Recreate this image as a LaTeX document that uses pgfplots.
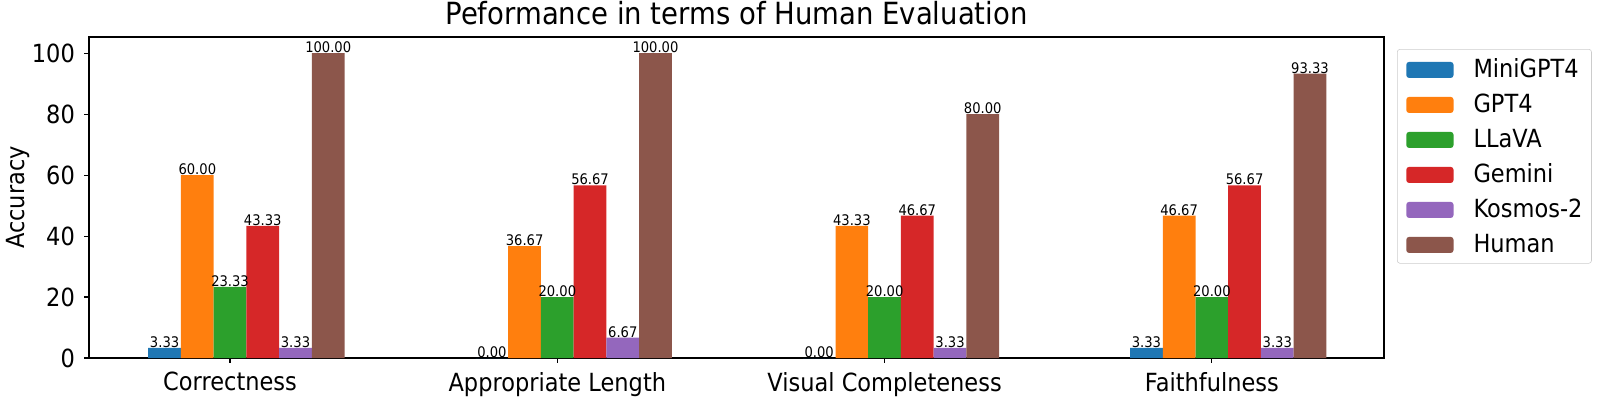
\documentclass[border=0pt]{standalone}
\usepackage{fontspec}
\setmainfont[FakeStretch=0.9]{DejaVu Sans}
\usepackage{pgfplots}
\pgfplotsset{compat=1.18}
\definecolor{c1}{HTML}{1F77B4}
\definecolor{c2}{HTML}{FF7F0E}
\definecolor{c3}{HTML}{2CA02C}
\definecolor{c4}{HTML}{D62728}
\definecolor{c5}{HTML}{9467BD}
\definecolor{c6}{HTML}{8C564B}
\newcommand{\lf}{\fontsize{18}{21}\selectfont}
\begin{document}
\begin{tikzpicture}
\useasboundingbox (-64.08pt,-28.8pt) rectangle (1087.92pt,257.76pt);
\begin{axis}[
  at={(0,0)}, anchor=south west,
  scale only axis,
  width=932.4pt, height=231.1pt,
  xmin=-0.431, xmax=3.526,
  ymin=0, ymax=105.3,
  ybar, bar width=23.56pt,
  clip=false,
  axis line style={line width=0.8pt},
  tick style={line width=0.8pt, black},
  tick align=outside,
  major tick length=3.5pt,
  xtick={0,1,2,3},
  xticklabels={{\lf Correctness},{\lf Appropriate Length},{\lf Visual Completeness},{\lf Faithfulness}},
  ytick={0,20,40,60,80,100},
  yticklabel={\lf\pgfmathprintnumber[assume math mode=true]{\tick}},
  x tick label style={inner sep=0pt, anchor=north, yshift=-6.5pt},
  y tick label style={inner sep=0pt, anchor=east, xshift=-6.5pt},
  xtick pos=bottom, ytick pos=left,
  every axis title shift=0pt,
  title={\fontsize{22}{26}\selectfont Peformance in terms of Human Evaluation},
  title style={at={(axis description cs:0.5,1.0405)}, anchor=base, inner sep=0pt},
  ylabel={\lf Accuracy},
  ylabel style={at={(axis description cs:-0.0552,0.5)}, anchor=center, inner sep=0pt},
  nodes near coords={\fontsize{10.5}{12}\selectfont\pgfmathprintnumber[fixed, fixed zerofill, precision=2, assume math mode=true]{\pgfplotspointmeta}},
  nodes near coords style={inner sep=0pt, anchor=south},
  legend image code/.code={\fill[#1] (0pt,0pt) rectangle (34pt,11.5pt);},
  legend cell align=left,
  legend style={at={(1,1)}, anchor=north west, xshift=9.36pt, yshift=-8.64pt,
    draw=black!20, rounded corners=2pt,
    cells={anchor=base west},
    nodes={inner sep=0pt, text height=13.1pt, text depth=0pt},
    column sep=14.4pt, row sep=12.1pt,
    inner xsep=6.5pt, inner ysep=7.5pt},
]
\addplot[fill=c1, draw=none, bar shift=-47.12pt] coordinates {(0,3.33) (1,0) (2,0) (3,3.33)};
\addlegendentry{\lf MiniGPT4}
\addplot[fill=c2, draw=none, bar shift=-23.56pt] coordinates {(0,60) (1,36.67) (2,43.33) (3,46.67)};
\addlegendentry{\lf GPT4}
\addplot[fill=c3, draw=none, bar shift=0pt] coordinates {(0,23.33) (1,20) (2,20) (3,20)};
\addlegendentry{\lf LLaVA}
\addplot[fill=c4, draw=none, bar shift=23.56pt] coordinates {(0,43.33) (1,56.67) (2,46.67) (3,56.67)};
\addlegendentry{\lf Gemini}
\addplot[fill=c5, draw=none, bar shift=47.12pt] coordinates {(0,3.33) (1,6.67) (2,3.33) (3,3.33)};
\addlegendentry{\lf Kosmos-2}
\addplot[fill=c6, draw=none, bar shift=70.68pt] coordinates {(0,100) (1,100) (2,80) (3,93.33)};
\addlegendentry{\lf Human}
\end{axis}
\end{tikzpicture}
\end{document}
